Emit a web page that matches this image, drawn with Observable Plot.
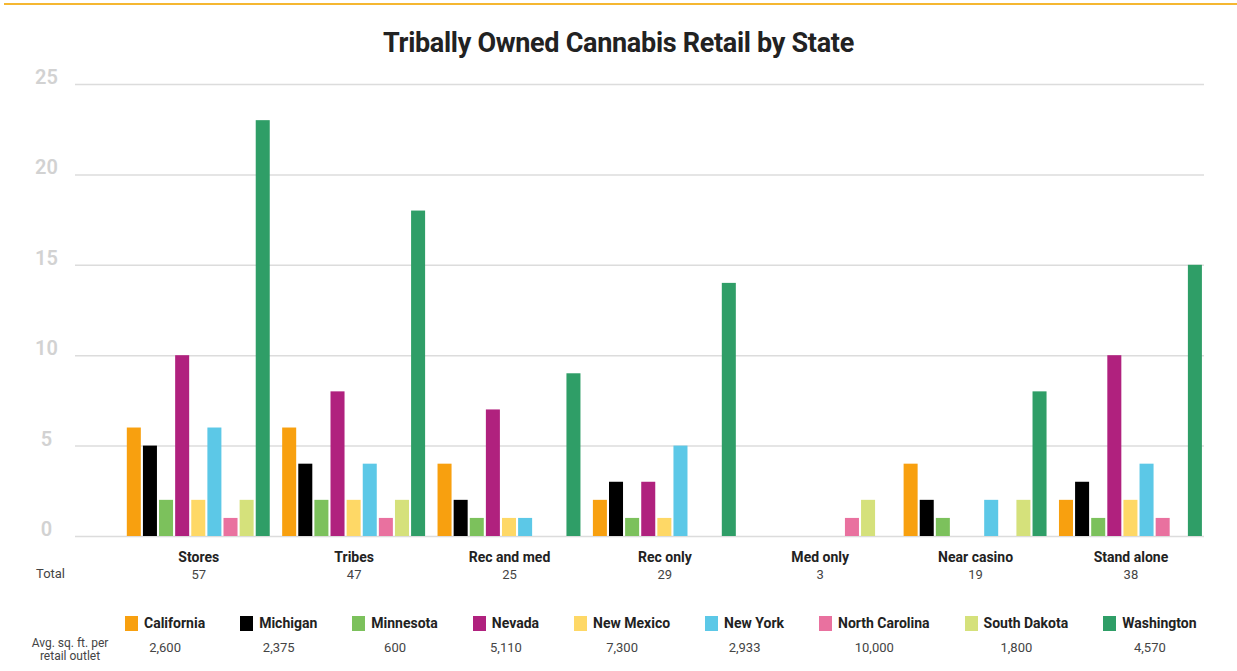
<!DOCTYPE html>
<html>
<head>
<meta charset="utf-8">
<script src="https://cdn.jsdelivr.net/npm/d3@7"></script>
<script src="https://cdn.jsdelivr.net/npm/@observablehq/plot@0.6"></script>
<style>
  body { margin: 0; background: #fff; }
  #wrap { position: relative; width: 1237px; height: 671px; overflow: hidden; font-family: Roboto, "Noto Sans", sans-serif; }
  #topline { position: absolute; left: 4px; right: 0; top: 3px; height: 2px; background: #f5b731; }
  #title { position: absolute; top: 27px; left: 0; width: 1237px; text-align: center; font-weight: 700; font-size: 27px; letter-spacing: -0.3px; color: #222; }
  #chart { position: absolute; top: 60px; left: 0; width: 1237px; height: 526px; }
  #chart svg { position: absolute; left: 0; top: 0; }
  #total { position: absolute; left: 36px; top: 566px; font-size: 13px; color: #444; }
  #avglabel { position: absolute; left: 28px; top: 637px; width: 84px; text-align: center; font-size: 12px; line-height: 13px; color: #444; }
  #legend { position: absolute; left: 125px; top: 613px; display: grid; grid-auto-flow: column; grid-template-rows: 20px 26px; column-gap: 35px; }
  .item { display: flex; align-items: center; font-size: 14px; font-weight: 700; color: #222; height: 20px; }
  .sw { width: 13px; height: 15px; margin-right: 6px; flex: none; }
  .val { text-align: center; font-size: 13px; color: #444; line-height: 26px; padding-top: 2px; }
</style>
</head>
<body>
<div id="wrap">
  <div id="topline"></div>
  <div id="title">Tribally Owned Cannabis Retail by State</div>
  <div id="chart"></div>
  <div id="total">Total</div>
  <div id="avglabel">Avg. sq. ft. per<br>retail outlet</div>
  <div id="legend"></div>
</div>
<script>
// ---- data ----
const groups = ["Stores", "Tribes", "Rec and med", "Rec only", "Med only", "Near casino", "Stand alone"];
const totals = [57, 47, 25, 29, 3, 19, 38];
const states = ["California", "Michigan", "Minnesota", "Nevada", "New Mexico", "New York", "North Carolina", "South Dakota", "Washington"];
const colors = ["#f8a00f", "#000000", "#7cc15c", "#b0217e", "#fed866", "#5cc8e7", "#e9719f", "#d5e17b", "#2f9e67"];
const avgSqFt = [2600, 2375, 600, 5110, 7300, 2933, 10000, 1800, 4570];
// values per state, in the order of groups
const California   = [6, 6, 4, 2, 0, 4, 2];
const Michigan     = [5, 4, 2, 3, 0, 2, 3];
const Minnesota    = [2, 2, 1, 1, 0, 1, 1];
const Nevada       = [10, 8, 7, 3, 0, 0, 10];
const NewMexico    = [2, 2, 1, 1, 0, 0, 2];
const NewYork      = [6, 4, 1, 5, 0, 2, 4];
const NorthCarolina= [1, 1, 0, 0, 1, 0, 1];
const SouthDakota  = [2, 2, 0, 0, 2, 2, 0];
const Washington   = [23, 18, 9, 14, 0, 8, 15];
const yTicks = [0, 5, 10, 15, 20, 25];

const series = [California, Michigan, Minnesota, Nevada, NewMexico, NewYork, NorthCarolina, SouthDakota, Washington];
const rows = [];
groups.forEach((g, gi) => states.forEach((s, si) => rows.push({group: g, state: s, value: series[si][gi]})));
const groupRows = groups.map((g, i) => ({group: g, total: totals[i]}));

const common = {
  width: 1237,
  height: 526,
  marginLeft: 75,
  marginRight: 33,
  marginTop: 24,
  marginBottom: 50,
  style: {fontFamily: "Roboto, 'Noto Sans', sans-serif", background: "transparent"},
  y: {domain: [0, 25], axis: null}
};

// background: continuous grid and y tick labels across the whole frame
const back = Plot.plot({
  ...common,
  marks: [
    Plot.ruleY(yTicks, {stroke: "#dcdcdc", strokeWidth: 1.5}),
    Plot.text(yTicks, {y: d => d, text: d => String(d), frameAnchor: "left", textAnchor: "middle", dx: -29, dy: -7, fill: "#d2d2d2", fontSize: 20, fontWeight: 600})
  ]
});

// foreground: grouped bars faceted by category
const front = Plot.plot({
  ...common,
  fx: {domain: groups, paddingInner: 0.053, paddingOuter: 0.16, align: 1, round: false, axis: null},
  x: {domain: states, padding: 0.13, round: false, axis: null},
  color: {domain: states, range: colors},
  marks: [
    Plot.barY(rows, {fx: "group", x: "state", y: "value", fill: "state"}),
    Plot.text(groupRows, {fx: "group", text: "group", frameAnchor: "bottom", dy: 25, fontSize: 14, fontWeight: 700, fill: "#222"}),
    Plot.text(groupRows, {fx: "group", text: "total", frameAnchor: "bottom", dy: 42, fontSize: 13, fill: "#444"})
  ]
});
document.getElementById("chart").appendChild(back);
document.getElementById("chart").appendChild(front);

// ---- legend ----
const fmt = d3.format(",");
const legend = document.getElementById("legend");
states.forEach((s, i) => {
  const item = document.createElement("div");
  item.className = "item";
  item.style.gridColumn = String(i + 1);
  item.style.gridRow = "1";
  const sw = document.createElement("span");
  sw.className = "sw";
  sw.style.background = colors[i];
  item.appendChild(sw);
  item.appendChild(document.createTextNode(s));
  legend.appendChild(item);
  const v = document.createElement("div");
  v.className = "val";
  v.style.gridColumn = String(i + 1);
  v.style.gridRow = "2";
  v.textContent = fmt(avgSqFt[i]);
  legend.appendChild(v);
});
</script>
</body>
</html>
